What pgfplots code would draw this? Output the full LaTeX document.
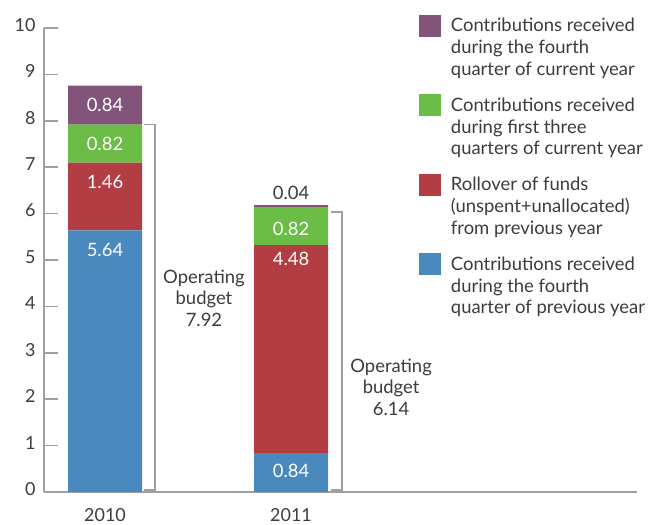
\documentclass[border=0pt]{standalone}
\usepackage{fontspec}
\setmainfont{Lato}
\usepackage{pgfplots}
\pgfplotsset{compat=1.18}
\definecolor{cpur}{RGB}{131,84,122}
\definecolor{cgreen}{RGB}{108,189,69}
\definecolor{cred}{RGB}{178,61,66}
\definecolor{cblue}{RGB}{74,137,190}
\definecolor{axgray}{RGB}{160,160,164}
\definecolor{txt}{RGB}{60,60,60}
\newcommand{\legtxt}[1]{\begin{tabular}[t]{@{}l@{}}#1\end{tabular}}
\tikzset{val/.style={font=\fontsize{18.5}{22}\selectfont, text=white}}
\begin{document}
\begin{tikzpicture}
\begin{axis}[
  scale only axis, width=593bp, height=464bp,
  xmin=-0.328, xmax=2.860, ymin=0, ymax=10,
  ybar stacked, bar width=74bp,
  axis lines*=left,
  axis line style={draw=axgray, line width=1.6bp},
  ytick={0,1,...,10},
  ytick style={draw=axgray, line width=1.6bp},
  major tick length=14bp, tick align=inside,
  xtick={0,1}, xticklabels={2010,2011}, xtick style={draw=none},
  yticklabel style={font=\fontsize{18}{22}\selectfont, text=txt, yshift=3bp, xshift=-5bp},
  xticklabel style={font=\fontsize{18}{22}\selectfont, text=txt, yshift=-13bp},
  /pgf/number format/assume math mode=true,
  reverse legend,
  legend cell align=left,
  legend image code/.code={\fill[#1] (0bp,-12bp) rectangle (22bp,10bp);},
  legend style={at={(rel axis cs:0.632,1.029)}, anchor=north west, draw=none, fill=none,
    font=\fontsize{18.5}{22}\selectfont, text=txt,
    nodes={inner sep=0pt}, row sep=57.5bp, column sep=10bp, inner sep=0pt},
]
\addplot[fill=cblue, draw=none] coordinates {(0,5.64) (1,0.84)};
\addlegendentry{\legtxt{Contributions received\\during the fourth\\quarter of previous year}}
\addplot[fill=cred, draw=none] coordinates {(0,1.46) (1,4.48)};
\addlegendentry{\legtxt{Rollover of funds\\(unspent+unallocated)\\from previous year}}
\addplot[fill=cgreen, draw=none] coordinates {(0,0.82) (1,0.82)};
\addlegendentry{\legtxt{Contributions received\\during first three\\quarters of current year}}
\addplot[fill=cpur, draw=none] coordinates {(0,0.84) (1,0.04)};
\addlegendentry{\legtxt{Contributions received\\during the fourth\\quarter of current year}}

\coordinate (O) at (rel axis cs:0,0);
\coordinate (v1) at (axis cs:0,8.34);
\coordinate (v2) at (axis cs:0,7.51);
\coordinate (v3) at (axis cs:0,6.68);
\coordinate (v4) at (axis cs:0,5.22);
\coordinate (w1) at (axis cs:1,6.44);
\coordinate (w2) at (axis cs:1,5.67);
\coordinate (w3) at (axis cs:1,5.02);
\coordinate (w4) at (axis cs:1,0.45);

\draw[axgray, line width=1.8bp] (axis cs:0.21,7.92) -- (axis cs:0.269,7.92) -- (axis cs:0.269,0.04) -- (axis cs:0.21,0.04);
\draw[axgray, line width=1.8bp] (axis cs:1.215,6.03) -- (axis cs:1.274,6.03) -- (axis cs:1.274,0.04) -- (axis cs:1.215,0.04);

\node[text=txt, align=center, font=\fontsize{18.5}{21.5}\selectfont] at (axis cs:0.532,4.18) {Operating\\budget\\7.92};
\node[text=txt, align=center, font=\fontsize{18.5}{21.5}\selectfont] at (axis cs:1.538,2.26) {Operating\\budget\\6.14};
\end{axis}
\node[val] at (v1) {0.84};
\node[val] at (v2) {0.82};
\node[val] at (v3) {1.46};
\node[val] at (v4) {5.64};
\node[val, text=txt] at (w1) {0.04};
\node[val] at (w2) {0.82};
\node[val] at (w3) {4.48};
\node[val] at (w4) {0.84};
\pgfresetboundingbox
\path[use as bounding box] ([shift={(-44bp,-33bp)}]O) rectangle ([shift={(610bp,492bp)}]O);
\end{tikzpicture}
\end{document}
